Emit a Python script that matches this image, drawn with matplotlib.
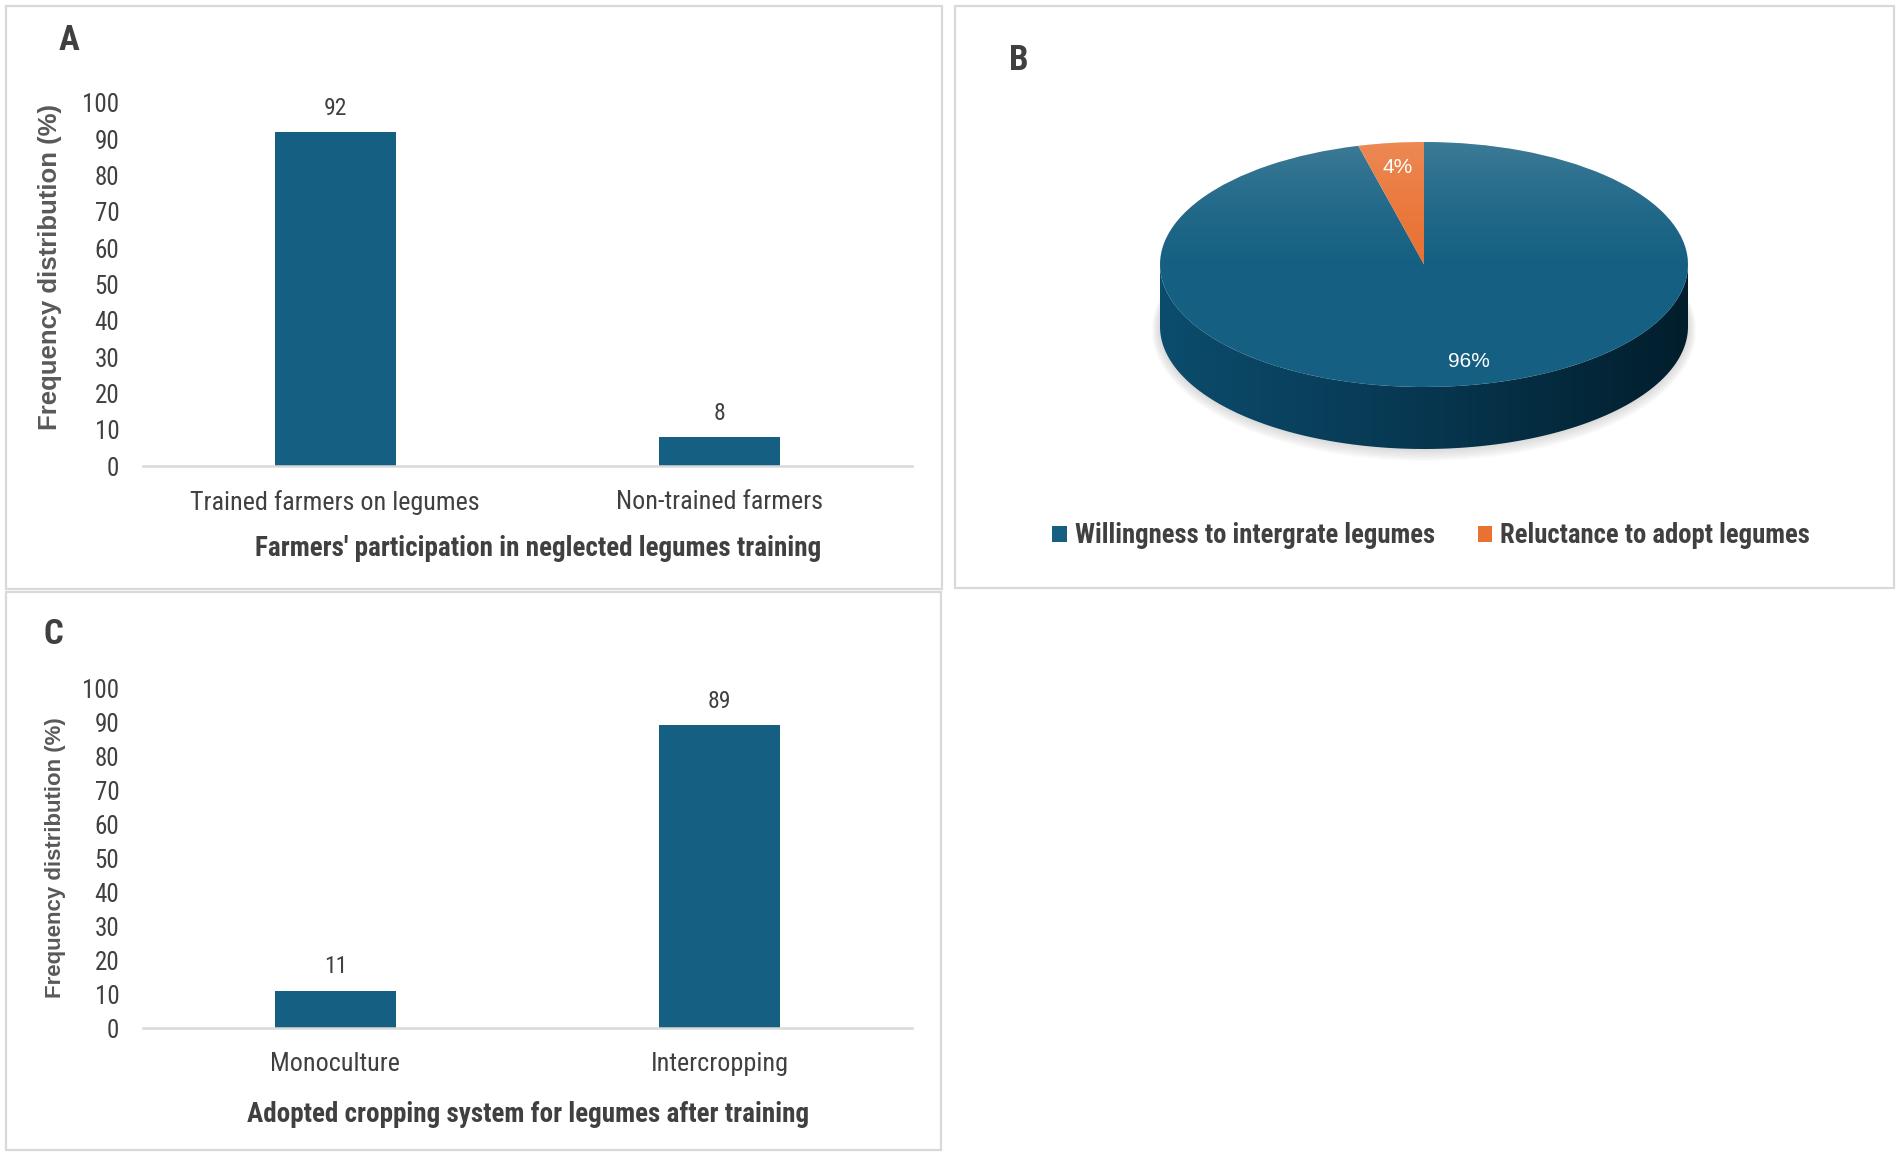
import numpy as np
import matplotlib
matplotlib.use("Agg")
import matplotlib.pyplot as plt
from matplotlib import font_manager
from matplotlib.font_manager import FontProperties
from matplotlib.patches import Rectangle, Polygon, Circle, Ellipse

# data
train_cats = ["Trained farmers on legumes", "Non-trained farmers"]
train_vals = [92, 8]
pie_labels = ["Willingness to intergrate legumes", "Reluctance to adopt legumes"]
pie_vals = [96, 4]
crop_cats = ["Monoculture", "Intercropping"]
crop_vals = [11, 89]

BLUE = "#156082"
ORANGE = "#E97132"
TXT = "#404040"
GRID = "#d9d9d9"

W, H = 1902, 1157
fig = plt.figure(figsize=(W / 100, H / 100), dpi=100)


# look for a narrow/condensed face (the original uses a narrow Office font)
def pick_narrow():
    order = ["Liberation Sans Narrow", "Roboto Condensed", "Open Sans Condensed",
             "Noto Sans", "Open Sans", "DejaVu Sans", "Roboto"]
    groups = {}
    for f in font_manager.fontManager.ttflist:
        narrow = ("Narrow" in f.name or "Condensed" in f.name
                  or f.stretch in ("condensed", "semi-condensed"))
        if not narrow or f.style != "normal":
            continue
        groups.setdefault(f.name, []).append(f)
    if not groups:
        return None, None, None
    names = sorted(groups, key=lambda n: order.index(n) if n in order else 99)
    for n in names:
        fl = groups[n]
        w = lambda f: f.weight if isinstance(f.weight, (int, float)) else \
            {"normal": 400, "regular": 400, "bold": 700}.get(str(f.weight), 400)
        reg = min(fl, key=lambda f: abs(w(f) - 400))
        bold = min(fl, key=lambda f: abs(w(f) - 700))
        if abs(w(bold) - 700) <= 100:
            return n, reg.fname, bold.fname
    return None, None, None


nname, nreg, nbold = pick_narrow()
if nname:
    def NR(size):
        return FontProperties(fname=nreg, size=size)

    def NB(size):
        return FontProperties(fname=nbold, size=size)
else:
    def NR(size):
        return FontProperties(family="DejaVu Sans", size=size * 0.8)

    def NB(size):
        return FontProperties(family="DejaVu Sans", weight="bold", size=size * 0.74)


def fx(px):
    return px / W


def fy(py):
    return 1 - py / H


def box(x0, y0, x1, y1):
    fig.patches.append(Rectangle((fx(x0), fy(y1)), fx(x1) - fx(x0), (y1 - y0) / H,
                                 transform=fig.transFigure, fill=False,
                                 edgecolor=GRID, lw=1.6))


def bar_panel(left, right, top, bottom, cats, vals, letter, letter_xy,
              ylab_xy, ylab_size, title, title_xy):
    ax = fig.add_axes([fx(left), fy(bottom), fx(right) - fx(left), (bottom - top) / H])
    x = np.arange(len(cats))
    ax.bar(x, vals, width=0.315, color=BLUE, zorder=2)
    ax.set_xlim(-0.5, len(cats) - 0.5)
    ax.set_ylim(0, 100)
    ax.set_yticks(range(0, 101, 10))
    ax.set_xticks(x)
    ax.set_xticklabels(cats)
    for s in ["top", "right", "left"]:
        ax.spines[s].set_visible(False)
    ax.spines["bottom"].set_color(GRID)
    ax.spines["bottom"].set_linewidth(1.8)
    ax.tick_params(axis="both", length=0, colors=TXT)
    ax.tick_params(axis="y", pad=17)
    ax.tick_params(axis="x", pad=17.5)
    for lab in ax.get_yticklabels():
        lab.set_fontproperties(NR(18))
    for lab in ax.get_xticklabels():
        lab.set_fontproperties(NR(18.8))
    for xi, v in zip(x, vals):
        ax.annotate(str(v), (xi, v), xytext=(0, 17), textcoords="offset points",
                    ha="center", va="center", fontproperties=NR(17),
                    color=TXT)
    fig.text(fx(letter_xy[0]), fy(letter_xy[1]), letter, fontproperties=NB(25),
             color=TXT, ha="center", va="center")
    fig.text(fx(ylab_xy[0]), fy(ylab_xy[1]), "Frequency distribution (%)",
             rotation=90, fontsize=ylab_size, family=["Liberation Sans", "DejaVu Sans"],
             weight="bold", color="#595959", ha="center", va="center")
    fig.text(fx(title_xy[0]), fy(title_xy[1]), title, fontproperties=NB(19.5),
             color=TXT, ha="center", va="center")
    return ax


# panel frames
box(6, 6, 942, 589)
box(955, 6, 1894, 588)
box(6, 592, 941, 1150)

bar_panel(143, 912, 103, 466, train_cats, train_vals, "A", (69, 41),
          (50, 267), 18.5, "Farmers' participation in neglected legumes training", (538, 548))
bar_panel(143, 912, 688, 1028, crop_cats, crop_vals, "C", (53, 634),
          (56, 858), 16, "Adopted cropping system for legumes after training", (528, 1115))

# panel B: 3-D style pie
fig.text(fx(1019), fy(61), "B", fontproperties=NB(25), color=TXT,
         ha="center", va="center")

cx0, cx1, top_y, front_y, depth = 1160, 1688, 142, 387, 62
d = depth / ((front_y - top_y) / 2)
axp = fig.add_axes([fx(cx0), fy(front_y + depth), fx(cx1) - fx(cx0),
                    (front_y + depth - top_y) / H])

wedges, _, autotexts = axp.pie(pie_vals, colors=[BLUE, ORANGE], startangle=90,
                               counterclock=False, radius=1, center=(0, 0),
                               autopct="%1.0f%%", pctdistance=0.8,
                               wedgeprops=dict(linewidth=0, zorder=2),
                               textprops=dict(color="white", fontsize=15,
                                              family=["Liberation Sans", "DejaVu Sans"]))
for t in autotexts:
    t.set_zorder(5)
# Excel nudges the large-slice label a little to the right
px_, py_ = autotexts[0].get_position()
autotexts[0].set_position((px_ + 0.07, py_))

# side wall
t = np.linspace(np.pi, 2 * np.pi, 200)
side_pts = np.concatenate([np.c_[np.cos(t), np.sin(t)],
                           np.c_[np.cos(t[::-1]), np.sin(t[::-1]) - d]])
side = Polygon(side_pts, closed=True, facecolor="none", edgecolor="none",
               transform=axp.transData)
axp.add_patch(side)
grad = np.linspace(0, 1, 256)
c_left = np.array([0x0c, 0x4c, 0x6d]) / 255
c_mid = np.array([0x07, 0x37, 0x50]) / 255
c_right = np.array([0x02, 0x1e, 0x2c]) / 255
cols = np.where(grad[:, None] < 0.5,
                c_left + (c_mid - c_left) * (grad[:, None] / 0.5),
                c_mid + (c_right - c_mid) * ((grad[:, None] - 0.5) / 0.5))
im = axp.imshow(cols[None, :, :], extent=(-1, 1, -1 - d, 0), aspect="auto",
                zorder=1, interpolation="bilinear")
im.set_clip_path(side)

# soft shadow under the wall
for k in range(1, 9):
    e = k / 264
    sh = Ellipse((0, -d - k * 0.004), 2 * (1 + e), 2 * (1 + k / 122.5),
                 facecolor="#7f7f7f", edgecolor="none", alpha=0.035,
                 zorder=0.5, clip_on=False)
    axp.add_patch(sh)

# gloss on top face
alpha = np.clip((np.linspace(1, -1, 256) + 0.1) / 1.1, 0, 1) ** 1.5 * 0.17
gloss = np.zeros((256, 2, 4))
gloss[..., :3] = 1
gloss[..., 3] = alpha[:, None]
top_face = Circle((0, 0), 1, transform=axp.transData, facecolor="none",
                  edgecolor="none")
axp.add_patch(top_face)
g = axp.imshow(gloss, extent=(-1, 1, -1, 1), aspect="auto", zorder=3,
               interpolation="bilinear")
g.set_clip_path(top_face)

axp.set_aspect("auto")
axp.set_xlim(-1, 1)
axp.set_ylim(-1 - d, 1)
axp.axis("off")

fig.legend(handles=wedges, labels=pie_labels, loc="center",
           bbox_to_anchor=(fx(1431), fy(536)), ncol=2, frameon=False,
           handlelength=0.55, handleheight=0.55, handletextpad=0.3,
           columnspacing=1.6, labelcolor=TXT, prop=NB(19.3))

fig.savefig("out.png", dpi=100)
